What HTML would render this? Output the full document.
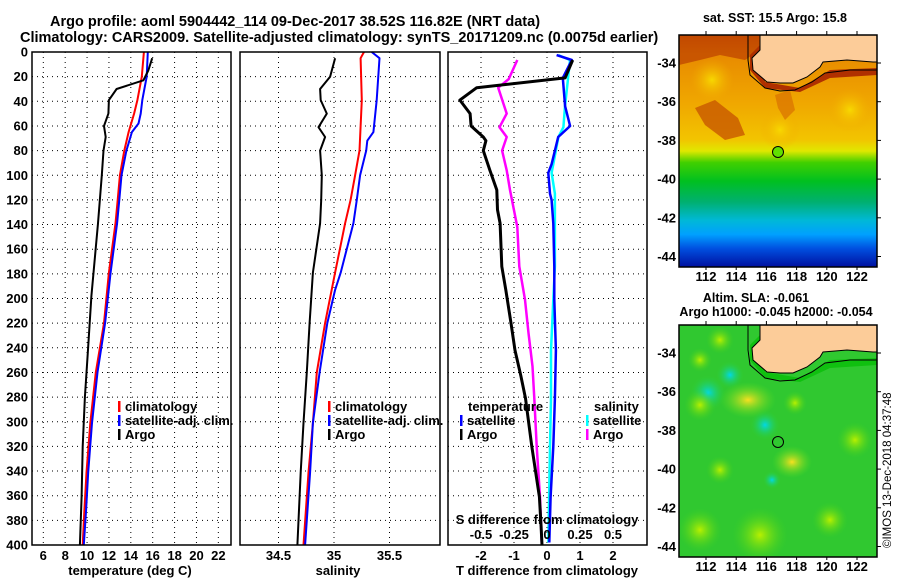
<!DOCTYPE html>
<html><head><meta charset="utf-8"><style>
html,body{margin:0;padding:0;background:#fff;}
svg{display:block;font-family:"Liberation Sans",sans-serif;font-weight:bold;}
</style></head><body>
<svg id="fig" width="900" height="580" viewBox="0 0 900 580" xmlns="http://www.w3.org/2000/svg">
<defs>
<linearGradient id="sstGrad" x1="0" y1="0" x2="0" y2="1">
<stop offset="0" stop-color="#c84a00"/><stop offset="0.08" stop-color="#e88a00"/>
<stop offset="0.3" stop-color="#f0a800"/><stop offset="0.45" stop-color="#f2c400"/>
<stop offset="0.5" stop-color="#e0e800"/><stop offset="0.55" stop-color="#40d000"/>
<stop offset="0.63" stop-color="#00c020"/><stop offset="0.72" stop-color="#00b070"/>
<stop offset="0.8" stop-color="#00b8d8"/><stop offset="0.86" stop-color="#00a0ff"/>
<stop offset="0.92" stop-color="#0050e0"/><stop offset="1" stop-color="#0010a0"/>
</linearGradient>
<radialGradient id="cyanBlob"><stop offset="0" stop-color="#00d8e8"/><stop offset="1" stop-color="#30d030" stop-opacity="0"/></radialGradient>
<radialGradient id="yelBlob"><stop offset="0" stop-color="#f8e020"/><stop offset="1" stop-color="#60e020" stop-opacity="0"/></radialGradient>
<radialGradient id="ltBlob"><stop offset="0" stop-color="#b8f000"/><stop offset="1" stop-color="#40d020" stop-opacity="0"/></radialGradient>
<radialGradient id="yBlob1"><stop offset="0" stop-color="#f8d800"/><stop offset="1" stop-color="#f0a800" stop-opacity="0"/></radialGradient>
<clipPath id="clipMap1"><rect x="679" y="35" width="198" height="232"/></clipPath>
<clipPath id="clipMap2"><rect x="679" y="325" width="198" height="232"/></clipPath>
</defs>

<text x="50" y="26" font-size="14.5">Argo profile: aoml 5904442_114 09-Dec-2017 38.52S 116.82E (NRT data)</text>
<text x="20" y="42" font-size="14.5">Climatology: CARS2009. Satellite-adjusted climatology: synTS_20171209.nc (0.0075d earlier)</text>

<g id="p1"></g>
<g id="p2"></g>
<g id="p3"></g>

<g>
<text x="775" y="22" font-size="12.5" text-anchor="middle">sat. SST: 15.5 Argo: 15.8</text>
<g clip-path="url(#clipMap1)">
<rect x="679" y="35" width="198" height="232" fill="url(#sstGrad)"/>
<circle cx="712" cy="80" r="22" fill="url(#yBlob1)"/>
<circle cx="850" cy="110" r="22" fill="url(#yBlob1)"/>
<circle cx="780" cy="130" r="20" fill="url(#yBlob1)"/>
<polygon points="679,35 760,35 760,50 745,60 720,55 700,60 679,65" fill="#c04800" opacity="0.8"/>
<polygon points="695,108 715,100 738,118 745,135 725,140 705,125" fill="#c85800" opacity="0.8"/>
<polygon points="775,95 790,90 795,110 785,120 778,108" fill="#d87000" opacity="0.7"/>
<polygon points="750,55 760,45 765,82 800,88 830,70 877,68 877,75 830,78 800,92 765,88 750,70" fill="#b03000"/>
<polygon points="760,35 760,50 752,58 753,70 767,82 780,83 793,83 807,77 820,67 823,62 847,60 873,62 877,62 877,35" fill="#fccc99" stroke="#000" stroke-width="1"/>
<polyline points="748,35 748,60 750,75 765,88 780,91 795,90 812,82 825,73 850,70 877,70" fill="none" stroke="#000" stroke-width="1"/>
<circle cx="778" cy="152" r="5.5" fill="#60e000" stroke="#000" stroke-width="1"/>
</g>
<rect x="679" y="35" width="198" height="232" fill="none" stroke="#000" stroke-width="1.5"/>
</g>

<g>
<text x="756" y="302" font-size="12.5" text-anchor="middle">Altim. SLA: -0.061</text>
<text x="776" y="316" font-size="12.5" text-anchor="middle">Argo h1000: -0.045 h2000: -0.054</text>
<g clip-path="url(#clipMap2)">
<rect x="679" y="325" width="198" height="232" fill="#30c830"/>
<circle cx="708" cy="393" r="18" fill="url(#cyanBlob)"/>
<circle cx="730" cy="375" r="14" fill="url(#cyanBlob)"/>
<ellipse cx="748" cy="400" rx="28" ry="18" fill="url(#yelBlob)"/>
<circle cx="765" cy="425" r="15" fill="url(#cyanBlob)"/>
<ellipse cx="792" cy="462" rx="20" ry="16" fill="url(#yelBlob)"/>
<circle cx="795" cy="403" r="12" fill="url(#ltBlob)"/>
<circle cx="855" cy="440" r="18" fill="url(#ltBlob)"/>
<circle cx="700" cy="405" r="16" fill="url(#ltBlob)"/>
<circle cx="720" cy="340" r="14" fill="url(#ltBlob)"/>
<circle cx="700" cy="360" r="12" fill="url(#ltBlob)"/>
<circle cx="760" cy="535" r="28" fill="url(#ltBlob)"/>
<circle cx="700" cy="530" r="22" fill="url(#ltBlob)"/>
<circle cx="720" cy="470" r="14" fill="url(#ltBlob)"/>
<circle cx="830" cy="520" r="18" fill="url(#ltBlob)"/>
<circle cx="772" cy="480" r="9" fill="url(#cyanBlob)"/>
<polygon points="750,345 760,335 765,372 800,378 830,360 877,358 877,365 830,368 800,382 765,378 750,360" fill="#10c010"/>
<polygon points="760,325 760,340 752,348 753,360 767,372 780,373 793,373 807,367 820,357 823,352 847,350 873,352 877,352 877,325" fill="#fccc99" stroke="#000" stroke-width="1"/>
<polyline points="748,325 748,350 750,365 765,378 780,381 795,380 812,372 825,363 850,360 877,360" fill="none" stroke="#000" stroke-width="1"/>
<circle cx="778" cy="442" r="5.5" fill="none" stroke="#000" stroke-width="1"/>
</g>
<rect x="679" y="325" width="198" height="232" fill="none" stroke="#000" stroke-width="1.5"/>
</g>
<text x="0" y="0" font-size="11.5" font-weight="normal" transform="translate(891,548) rotate(-90)">©IMOS 13-Dec-2018 04:37:48</text>
<g id="mapAxes"></g>
</svg>
<script>
const depthTicks = [0,20,40,60,80,100,120,140,160,180,200,220,240,260,280,300,320,340,360,380,400];
const tempTicks = [6,8,10,12,14,16,18,20,22];
const salTicks = [34.5,35,35.5];
const salTickLabels = ["34.5","35","35.5"];
const tdiffTicks = [-2,-1,0,1,2];
const sdiffTicks = [-0.5,-0.25,0,0.25,0.5];
const sdiffTickLabels = ["-0.5","-0.25","0","0.25","0.5"];

const argoTDepth = [5,15,23,30,39,50,60,69,80,100,139,198,239,280,320,361,400];
const argoTemp = [15.95,15.6,15.15,12.7,12.0,11.95,11.55,11.7,11.5,11.35,11.0,10.4,10.1,9.8,9.6,9.5,9.35];
const climTDepth = [0,20,39,50,65,80,100,120,139,179,220,260,301,341,373,400];
const climTemp = [15.2,15.0,14.6,14.3,13.8,13.4,13.0,12.8,12.6,12.0,11.55,10.8,10.3,9.95,9.75,9.6];
const satTDepth = [0,20,39,50,58,65,80,100,120,139,179,220,260,301,341,373,400];
const satTemp = [15.55,15.45,15.05,14.9,14.7,14.1,13.6,13.15,12.95,12.75,12.15,11.65,10.95,10.45,10.1,9.9,9.7];

const argoSDepth = [5,20,30,39,50,61,69,80,100,120,139,179,220,260,301,341,400];
const argoSal = [35.01,34.965,34.875,34.88,34.935,34.86,34.92,34.875,34.89,34.885,34.875,34.81,34.78,34.755,34.725,34.70,34.67];
const climSDepth = [0,5,39,80,100,120,139,179,220,260,301,341,400];
const climSal = [35.27,35.24,35.25,35.23,35.19,35.15,35.10,35.01,34.92,34.845,34.81,34.77,34.725];
const satSDepth = [0,5,39,65,72,80,100,120,139,179,193,220,260,301,341,400];
const satSal = [35.34,35.41,35.385,35.355,35.30,35.29,35.235,35.205,35.175,35.06,35.01,34.94,34.87,34.81,34.785,34.74];

const argoTdDepth = [6.5,21,29,39,50,60,69,72,80,96,112,128,139,174,193,220,242,263,281,320,361,385,400];
const argoTdiff = [0.78,0.55,-2.13,-2.64,-2.33,-2.30,-1.93,-1.85,-1.93,-1.73,-1.52,-1.5,-1.42,-1.37,-1.25,-1.09,-0.97,-0.79,-0.65,-0.46,-0.23,-0.18,-0.15];
const argoSdDepth = [6.5,22,29,50,61,69,80,96,112,142,174,201,228,255,281,320,361,398];
const argoSdiff = [-0.225,-0.29,-0.37,-0.305,-0.36,-0.305,-0.34,-0.305,-0.28,-0.225,-0.21,-0.167,-0.14,-0.11,-0.096,-0.078,-0.053,-0.04];
const satTdDepth = [2.5,6.5,21,44,60,69,91,98,115,120,139,174,201,242,281,320,361,398];
const satTdiff = [0.29,0.75,0.48,0.55,0.70,0.34,0.14,0.04,0.09,0.14,0.19,0.22,0.22,0.27,0.24,0.19,0.11,0.07];
const satSdDepth = [2.5,6.5,21,44,61,69,91,98,115,142,174,201,242,281,320,398];
const satSdiff = [0.086,0.174,0.16,0.136,0.124,0.086,0.048,0.035,0.06,0.06,0.06,0.048,0.03,0.03,0.023,0.01];

const lonTicks = [112,114,116,118,120,122];
const latTicks = [-34,-36,-38,-40,-42,-44];

const NS = "http://www.w3.org/2000/svg";
const TOP = 52, BOT = 545;
const FS = 13;
function yD(d){ return TOP + d*(BOT-TOP)/400; }
function xT(t){ return 43.3 + (t-6)*10.94; }
function xS(s){ return 334 + (s-35)*111; }
function xTd(v){ return 547 + v*33; }
function xSd(v){ return 547 + v*132; }

function mk(parent, tag, attrs){
  const e = document.createElementNS(NS, tag);
  for (const k in attrs) e.setAttribute(k, attrs[k]);
  parent.appendChild(e);
  return e;
}
function txt(parent, x, y, s, size, anchor){
  const t = mk(parent, 'text', {x:x, y:y, 'font-size':size, 'text-anchor':anchor||'middle'});
  t.textContent = s;
  return t;
}
function grid(g, x0, x1, xs){
  depthTicks.forEach(d=>{
    if (d===0 || d===400) return;
    const l = mk(g,'line',{x1:x0,x2:x1,y1:yD(d),y2:yD(d),stroke:'#000','stroke-width':1,'stroke-dasharray':'1,4'});
    
    
  });
  xs.forEach(x=>{
    const l = mk(g,'line',{x1:x,x2:x,y1:TOP,y2:BOT,stroke:'#000','stroke-width':1,'stroke-dasharray':'1,4'});
    
    
  });
}
function frame(g, x0, x1){
  const r = mk(g,'rect',{x:x0,y:TOP,width:x1-x0,height:BOT-TOP,fill:'none',stroke:'#000','stroke-width':1.5});
  
  
}
function line(g, depths, vals, xf, color, w, name){
  const pts = depths.map((d,i)=> xf(vals[i]).toFixed(1)+','+yD(d).toFixed(1)).join(' ');
  const p = mk(g,'polyline',{points:pts,fill:'none',stroke:color,'stroke-width':w,'stroke-linejoin':'round'});
  
  
}
function legendEntry(g, x, y, color, label){
  mk(g,'rect',{x:x,y:y-10,width:2.5,height:11,fill:color});
  const t = txt(g, x+7, y, label, FS, 'start');
  
  
}

const p1 = document.getElementById('p1');
grid(p1, 32, 231, tempTicks.map(xT));
line(p1, climTDepth, climTemp, xT, '#ff0000', 2, 'climatology-temp-line');
line(p1, satTDepth, satTemp, xT, '#0000ff', 2, 'satellite-temp-line');
line(p1, argoTDepth, argoTemp, xT, '#000000', 2, 'argo-temp-line');
frame(p1, 32, 231);
depthTicks.forEach(d=>{
  const t = txt(p1, 28, yD(d)+4.5, String(d), FS, 'end');
  
  
});
tempTicks.forEach(v=>{
  const t = txt(p1, xT(v), 560, String(v), FS);
  
  
});
txt(p1, 130, 575, 'temperature (deg C)', FS);
legendEntry(p1, 118, 411, '#ff0000', 'climatology');
legendEntry(p1, 118, 425, '#0000ff', 'satellite-adj. clim.');
legendEntry(p1, 118, 439, '#000000', 'Argo');

const p2 = document.getElementById('p2');
grid(p2, 240, 440, salTicks.map(xS));
line(p2, climSDepth, climSal, xS, '#ff0000', 2, 'climatology-sal-line');
line(p2, satSDepth, satSal, xS, '#0000ff', 2, 'satellite-sal-line');
line(p2, argoSDepth, argoSal, xS, '#000000', 2, 'argo-sal-line');
frame(p2, 240, 440);
salTicks.forEach((v,i)=>{
  const t = txt(p2, xS(v), 560, salTickLabels[i], FS);
  
  
});
txt(p2, 338, 575, 'salinity', FS);
legendEntry(p2, 328, 411, '#ff0000', 'climatology');
legendEntry(p2, 328, 425, '#0000ff', 'satellite-adj. clim.');
legendEntry(p2, 328, 439, '#000000', 'Argo');

const p3 = document.getElementById('p3');
grid(p3, 448, 647, tdiffTicks.map(xTd));
line(p3, satSdDepth, satSdiff, xSd, '#00ffff', 2.5, 'satellite-sdiff-line');
line(p3, satTdDepth, satTdiff, xTd, '#0000ff', 2.5, 'satellite-tdiff-line');
line(p3, argoSdDepth, argoSdiff, xSd, '#ff00ff', 2.5, 'argo-sdiff-line');
line(p3, argoTdDepth, argoTdiff, xTd, '#000000', 3, 'argo-tdiff-line');
frame(p3, 448, 647);
tdiffTicks.forEach(v=>{
  const t = txt(p3, xTd(v), 560, String(v), FS);
  
  
});
txt(p3, 547, 575, 'T difference from climatology', FS);
txt(p3, 547, 524, 'S difference from climatology', FS);
sdiffTicks.forEach((v,i)=>{
  const t = txt(p3, xSd(v), 539, sdiffTickLabels[i], FS);
  
  
});
txt(p3, 468, 411, 'temperature', FS, 'start');
legendEntry(p3, 460, 425, '#0000ff', 'satellite');
legendEntry(p3, 460, 439, '#000000', 'Argo');
txt(p3, 594, 411, 'salinity', FS, 'start');
legendEntry(p3, 586, 425, '#00ffff', 'satellite');
legendEntry(p3, 586, 439, '#ff00ff', 'Argo');

const ma = document.getElementById('mapAxes');
function lonX(l){ return 706 + (l-112)*15.1; }
[[35,267,63],[325,557,353]].forEach(([top,bot,y34])=>{
  lonTicks.forEach(l=>{
    const t = txt(ma, lonX(l), bot+14, String(l), FS);
    
    
    mk(ma,'line',{x1:lonX(l),x2:lonX(l),y1:top,y2:top-4,stroke:'#000'});
    mk(ma,'line',{x1:lonX(l),x2:lonX(l),y1:bot,y2:bot+3,stroke:'#000'});
  });
  latTicks.forEach(la=>{
    const y = y34 + (-34-la)*19.35;
    const t = txt(ma, 676, y+4.5, String(la), FS, 'end');
    
    
    mk(ma,'line',{x1:877,x2:881,y1:y,y2:y,stroke:'#000'});
  });
});
</script>
</body></html>
